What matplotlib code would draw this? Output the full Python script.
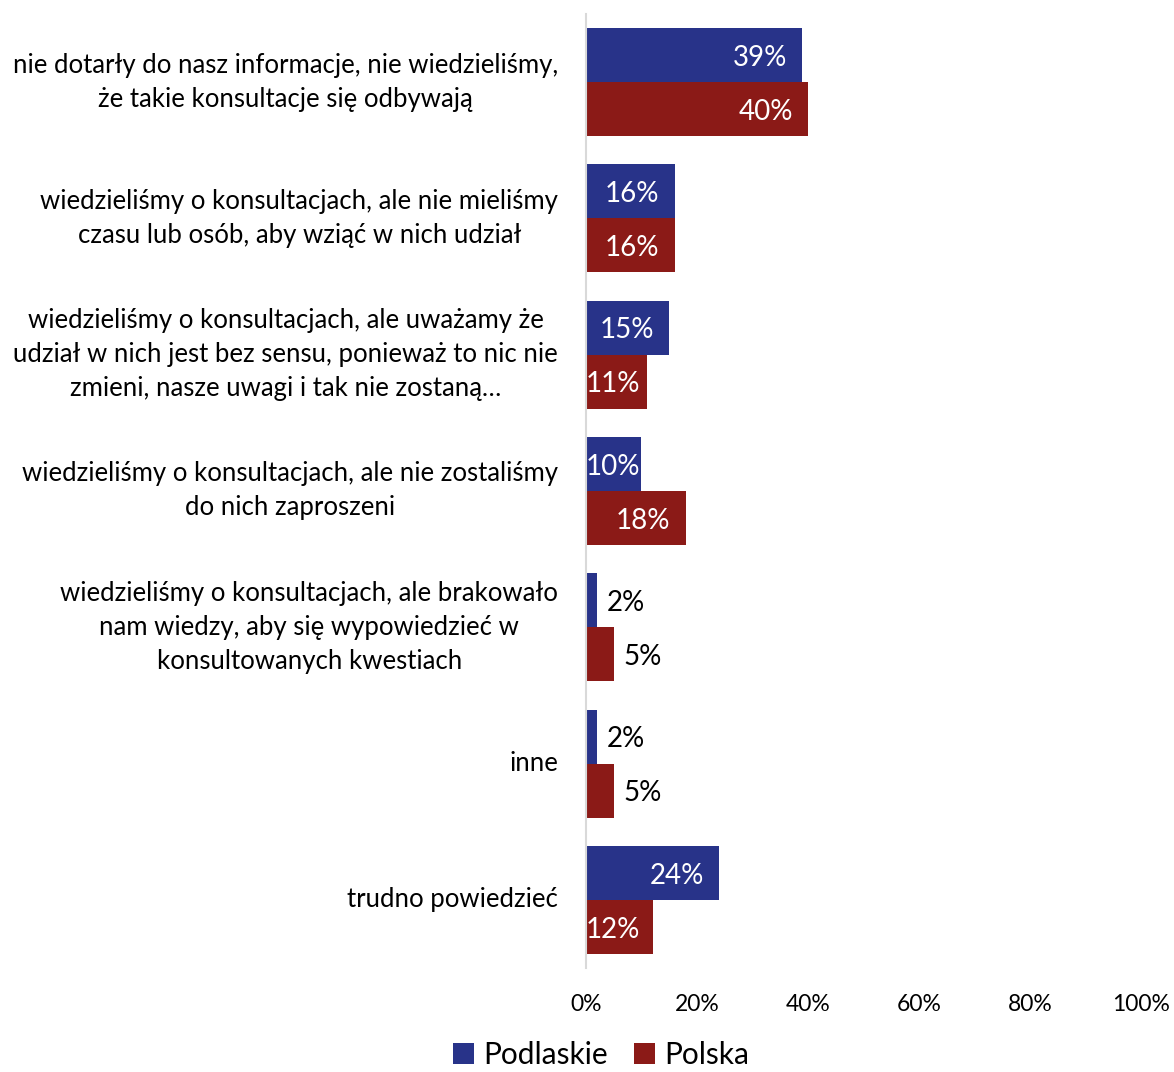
import numpy as np
import matplotlib.pyplot as plt

plt.rcParams['font.family'] = ['Lato', 'DejaVu Sans']

categories = [
    "nie dotarły do nasz informacje, nie wiedzieliśmy,\nże takie konsultacje się odbywają",
    "wiedzieliśmy o konsultacjach, ale nie mieliśmy\nczasu lub osób, aby wziąć w nich udział",
    "wiedzieliśmy o konsultacjach, ale uważamy że\nudział w nich jest bez sensu, ponieważ to nic nie\nzmieni, nasze uwagi i tak nie zostaną…",
    "wiedzieliśmy o konsultacjach, ale nie zostaliśmy\ndo nich zaproszeni",
    "wiedzieliśmy o konsultacjach, ale brakowało\nnam wiedzy, aby się wypowiedzieć w\nkonsultowanych kwestiach",
    "inne",
    "trudno powiedzieć",
]
podlaskie = [39, 16, 15, 10, 2, 2, 24]
polska = [40, 16, 11, 18, 5, 5, 12]
series_names = ["Podlaskie", "Polska"]
colors = ["#283389", "#8B1A17"]

fig = plt.figure(figsize=(11.74, 10.72), dpi=100)
ax = fig.add_axes([0.4991, 0.097, 0.4728, 0.890])

y = np.arange(len(categories))
h = 0.396
bars = []
for vals, off, col, name in zip([podlaskie, polska], [-h / 2, h / 2], colors, series_names):
    b = ax.barh(y + off, vals, height=h, color=col, label=name)
    bars.append(b)
    for yi, v in zip(y + off, vals):
        if v < 8:
            ax.annotate(f"{v}%", (v, yi), xytext=(7, -2), textcoords="offset points",
                        ha="left", va="center", fontsize=20, color="black")
        elif v < 13:
            ax.annotate(f"{v}%", (0, yi), xytext=(0, -2), textcoords="offset points",
                        ha="left", va="center", fontsize=20, color="white")
        else:
            ax.annotate(f"{v}%", (v, yi), xytext=(-11, -2), textcoords="offset points",
                        ha="right", va="center", fontsize=20, color="white")

ax.set_xlim(0, 100)
ax.set_ylim(len(categories) - 0.5, -0.5)
ax.set_xticks([0, 20, 40, 60, 80, 100])
ax.set_xticklabels([f"{t}%" for t in [0, 20, 40, 60, 80, 100]], fontsize=16.5)
ax.set_yticks(y)
ax.set_yticklabels(categories, fontsize=18.5, ma="center", linespacing=1.45, va="center")
ax.tick_params(axis="both", length=0)
ax.tick_params(axis="y", pad=20)
ax.tick_params(axis="x", pad=19)
for s in ["top", "right", "bottom"]:
    ax.spines[s].set_visible(False)
ax.spines["left"].set_color("#D9D9D9")
ax.spines["left"].set_linewidth(1.5)

fig.legend(handles=bars, labels=series_names, loc="lower center", ncol=2,
           bbox_to_anchor=(0.512, -0.022), frameon=False, fontsize=21.5,
           handlelength=0.7, handleheight=0.7, handletextpad=0.3, columnspacing=0.9)

fig.savefig("out.png", dpi=100)
